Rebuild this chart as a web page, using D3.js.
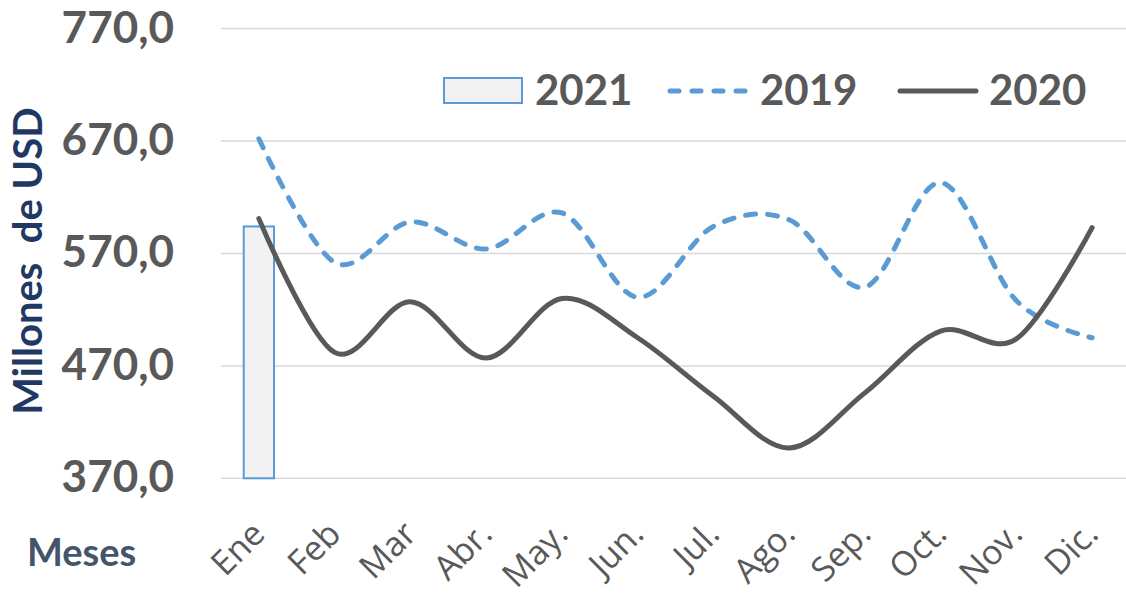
<!DOCTYPE html>
<html>
<head>
<meta charset="utf-8">
<script src="https://cdn.jsdelivr.net/npm/d3@7"></script>
<style>
  body { margin: 0; background: #fff; }
  svg { display: block; font-family: Lato, "Open Sans", sans-serif; }
</style>
</head>
<body>
<script>
const months = ['Ene', 'Feb', 'Mar', 'Abr.', 'May.', 'Jun.', 'Jul.', 'Ago.', 'Sep.', 'Oct.', 'Nov.', 'Dic.'];
const v2019 = [672, 562, 598, 574, 606, 531, 594, 600, 540, 633, 528, 495];
const v2020 = [601, 482, 527, 477, 530, 495, 443, 397, 446, 501, 494, 593];
const v2021 = [594];
const yTicks = [370, 470, 570, 670, 770];

const width = 1126, height = 595;
const svg = d3.select(document.body).append('svg')
  .attr('width', width).attr('height', height);

const x = d3.scaleBand().domain(months).range([221, 1130]);
const y = d3.scaleLinear().domain([370, 770]).range([478.3, 28.6]);
const fmt = d => d3.format('.1f')(d).replace('.', ',');

// gridlines
svg.append('g').selectAll('line')
  .data(yTicks)
  .join('line')
  .attr('x1', 221).attr('x2', 1130)
  .attr('y1', d => y(d)).attr('y2', d => y(d))
  .attr('stroke', '#d9d9d9').attr('stroke-width', 1.5);

// y axis labels
svg.append('g').selectAll('text')
  .data(yTicks)
  .join('text')
  .attr('x', 174).attr('y', d => y(d) + 14)
  .attr('text-anchor', 'end')
  .attr('fill', '#595959')
  .attr('font-weight', 'bold')
  .attr('font-size', 44)
  .text(fmt);

// x axis labels
svg.append('g').selectAll('text')
  .data(months)
  .join('text')
  .attr('transform', d => `translate(${x(d) + x.bandwidth() / 2 + 8}, 536) rotate(-45)`)
  .attr('text-anchor', 'end')
  .attr('fill', '#595959')
  .attr('font-family', '"Open Sans", Lato, sans-serif')
  .attr('font-size', 34)
  .text(d => d);

// 2021 bar
const bw = x.bandwidth() * 0.4;
svg.append('g').selectAll('rect')
  .data(v2021)
  .join('rect')
  .attr('x', (d, i) => x(months[i]) + (x.bandwidth() - bw) / 2)
  .attr('width', bw)
  .attr('y', d => y(d))
  .attr('height', d => y(370) - y(d))
  .attr('fill', '#f2f2f2')
  .attr('stroke', '#5b9bd5').attr('stroke-width', 2);

const line = d3.line()
  .x((d, i) => x(months[i]) + x.bandwidth() / 2)
  .y(d => y(d))
  .curve(d3.curveCardinal.tension(0));

svg.append('path')
  .attr('d', line(v2019))
  .attr('fill', 'none')
  .attr('stroke', '#5b9bd5').attr('stroke-width', 5)
  .attr('stroke-dasharray', '10 12').attr('stroke-linecap', 'round');

svg.append('path')
  .attr('d', line(v2020))
  .attr('fill', 'none')
  .attr('stroke', '#595959').attr('stroke-width', 5)
  .attr('stroke-linecap', 'round');

// legend
const leg = svg.append('g');
leg.append('rect').attr('x', 444).attr('y', 78).attr('width', 78).attr('height', 25)
  .attr('fill', '#f2f2f2').attr('stroke', '#5b9bd5').attr('stroke-width', 2);
leg.append('line').attr('x1', 670).attr('x2', 746).attr('y1', 91).attr('y2', 91)
  .attr('stroke', '#5b9bd5').attr('stroke-width', 5)
  .attr('stroke-dasharray', '9 13').attr('stroke-linecap', 'round');
leg.append('line').attr('x1', 900).attr('x2', 976).attr('y1', 91).attr('y2', 91)
  .attr('stroke', '#595959').attr('stroke-width', 5).attr('stroke-linecap', 'round');
leg.selectAll('text.lt')
  .data([['2021', 535], ['2019', 760], ['2020', 989]])
  .join('text')
  .attr('class', 'lt')
  .attr('x', d => d[1]).attr('y', 105)
  .attr('fill', '#595959')
  .attr('font-weight', 'bold')
  .attr('font-size', 42)
  .text(d => d[0]);

// axis titles
svg.append('text')
  .attr('transform', 'translate(42, 261) rotate(-90)')
  .attr('text-anchor', 'middle')
  .attr('fill', '#1f3864')
  .attr('font-weight', 'bold')
  .attr('font-size', 40)
  .style('white-space', 'pre')
  .text('Millones  de USD');

svg.append('text')
  .attr('x', 27).attr('y', 566)
  .attr('fill', '#44546a')
  .attr('font-weight', 'bold')
  .attr('font-size', 38)
  .text('Meses');
</script>
</body>
</html>
